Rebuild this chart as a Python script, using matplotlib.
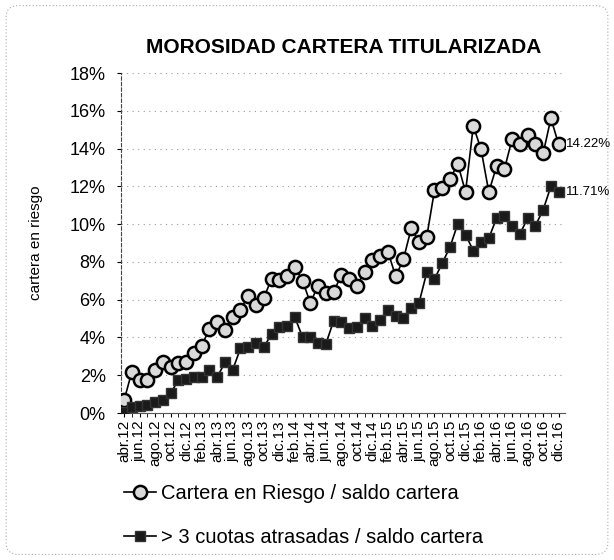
import matplotlib
matplotlib.use("Agg")
import matplotlib.pyplot as plt
from matplotlib.patches import FancyBboxPatch
import numpy as np

# months abr.12 .. dic.16
meses = ['ene', 'feb', 'mar', 'abr', 'may', 'jun', 'jul', 'ago', 'sep', 'oct', 'nov', 'dic']
periodos = [meses[m % 12] + '.' + str(12 + m // 12) for m in range(3, 60)]

# cartera en riesgo / saldo cartera (%)
riesgo = [0.67, 2.18, 1.73, 1.77, 2.26, 2.70, 2.44, 2.65, 2.70, 3.18,
          3.54, 4.47, 4.83, 4.42, 5.08, 5.47, 6.22, 5.70, 6.10, 7.09,
          7.05, 7.28, 7.74, 7.00, 5.83, 6.75, 6.35, 6.42, 7.30, 7.10,
          6.75, 7.48, 8.10, 8.30, 8.55, 7.23, 8.15, 9.77, 9.07, 9.33,
          11.79, 11.90, 12.38, 13.20, 11.70, 15.20, 13.96, 11.70, 13.07, 12.90,
          14.50, 14.27, 14.70, 14.27, 13.75, 15.60, 14.22]

# > 3 cuotas atrasadas / saldo cartera (%)
atrasadas = [0.05, 0.32, 0.35, 0.42, 0.58, 0.70, 1.05, 1.74, 1.80, 1.92,
             1.90, 2.30, 1.90, 2.68, 2.29, 3.42, 3.51, 3.73, 3.49, 4.17,
             4.58, 4.63, 5.07, 4.02, 4.00, 3.69, 3.65, 4.88, 4.84, 4.52,
             4.55, 5.02, 4.61, 4.93, 5.46, 5.14, 5.02, 5.55, 5.82, 7.44,
             7.09, 7.94, 8.79, 10.02, 9.44, 8.60, 9.08, 9.26, 10.32, 10.41,
             9.88, 9.47, 10.32, 9.92, 10.76, 12.00, 11.71]

y_ticks = [0, 2, 4, 6, 8, 10, 12, 14, 16, 18]

plt.rcParams['font.family'] = ['Liberation Sans', 'DejaVu Sans']

fig = plt.figure(figsize=(6.14, 5.6), dpi=100)
ax = fig.add_axes([0.197, 0.2625, 0.723, 0.607])

x = np.arange(len(periodos))
ax.plot(x, riesgo, color='black', lw=1.2, marker='o', ms=9.5,
        mfc='#d9d9d9', mec='black', mew=1.8, zorder=3,
        label='Cartera en Riesgo / saldo cartera')
ax.plot(x, atrasadas, color='black', lw=1.2, marker='s', ms=7,
        mfc='#1a1a1a', mec='#333333', mew=1, zorder=3,
        label='> 3 cuotas atrasadas / saldo cartera')

ax.annotate(f'{riesgo[-1]:.2f}%', (x[-1], riesgo[-1]), xytext=(5, 0),
            textcoords='offset points', va='center', fontsize=9.5)
ax.annotate(f'{atrasadas[-1]:.2f}%', (x[-1], atrasadas[-1]), xytext=(5, 0),
            textcoords='offset points', va='center', fontsize=9.5)

ax.set_xlim(-0.4, 56.8)
ax.set_ylim(0, 18)
ax.set_yticks(y_ticks)
ax.set_yticklabels([f'{v}%' for v in y_ticks], fontsize=13)
ax.set_xticks(x[::2])
ax.set_xticklabels(periodos[::2], rotation=90, fontsize=11)
ax.set_xticks(x, minor=True)
ax.tick_params(axis='x', which='both', length=3, pad=2)
ax.tick_params(axis='y', length=3, pad=8)

ax.grid(axis='y', linestyle=(0, (1, 4)), color='#999999', lw=0.8)
ax.set_axisbelow(True)
for s in ['top', 'right']:
    ax.spines[s].set_visible(False)
ax.spines['left'].set_linestyle((0, (3, 2)))
ax.spines['left'].set_color('#444444')
ax.spines['bottom'].set_color('#555555')

ax.set_ylabel('cartera en riesgo', fontsize=11)
ax.yaxis.set_label_coords(-0.175, 0.5)

fig.text(0.56, 0.905, 'MOROSIDAD CARTERA TITULARIZADA', ha='center',
         fontsize=15, fontweight='bold')

fig.legend(loc='lower left', bbox_to_anchor=(0.18, 0.0), frameon=False,
           fontsize=14.5, labelspacing=1.25, handlelength=1.6,
           handletextpad=0.25, borderpad=0.15)

border = FancyBboxPatch((0.01, 0.01), 0.98, 0.98, boxstyle='round,pad=0,rounding_size=0.02',
                        transform=fig.transFigure, fill=False, ec='#aaaaaa',
                        lw=0.8, ls=(0, (1, 2)))
fig.patches.append(border)

fig.savefig('out.png', dpi=100)
